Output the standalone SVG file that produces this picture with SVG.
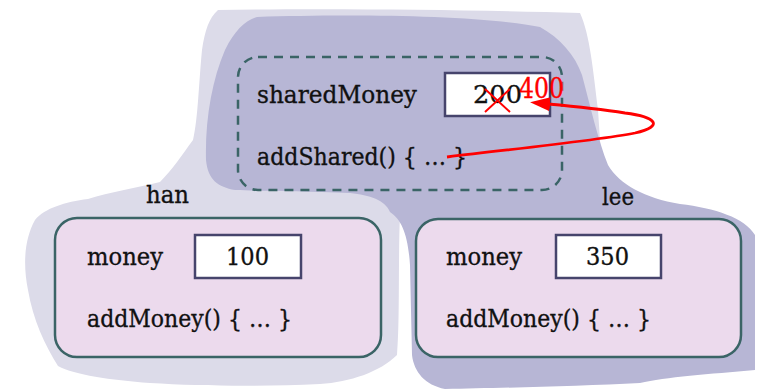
<svg xmlns="http://www.w3.org/2000/svg" width="759" height="390" viewBox="0 0 759 390">
  <style>
    .t { font-family: "DejaVu Serif", "Liberation Serif", serif; font-size: 25px; fill: #111; stroke: #111; stroke-width: 0.35; }
    .obj { fill: #ecdaed; stroke: #3a6466; stroke-width: 2.5; }
    .val { fill: #ffffff; stroke: #46446c; stroke-width: 2.5; }
    .red { stroke: #ff0000; stroke-width: 2.8; fill: none; }
  </style>
  <defs>
    <marker id="arrow" viewBox="0 0 20 14" refX="2" refY="7" markerWidth="20" markerHeight="14" markerUnits="userSpaceOnUse" orient="auto">
      <path d="M0,0 L20,7 L0,14 Z" fill="#ff0000"/>
    </marker>
  </defs>

  <!-- background regions -->
  <g id="regions">
    <path id="region-han" fill="#dcdbe9" d="M 218,10 C 330,8 480,10 580,13 C 590,35 593,70 598,110 L 602,170 L 400,215 C 398,260 400,320 397,355 C 380,372 350,382 320,384 C 260,387 200,386 150,383 C 110,380 75,375 58,366 C 45,345 33,320 28,290 C 23,265 24,240 35,220 C 45,208 65,202 88,199 C 110,192 135,188 160,182 C 172,170 182,155 193,140 C 198,120 199,80 202,50 C 205,30 209,18 218,10 Z"/>
    <path id="region-lee" fill="#b7b6d5" d="M 257,17 C 350,14 480,15 540,27 C 560,38 575,55 582,75 C 590,105 598,140 608,165 C 620,185 645,198 680,204 C 715,208 745,218 755,235 L 755,370 C 710,374 665,377 640,383 C 580,386 500,388 445,389 C 425,385 414,372 412,355 L 410,265 C 408,235 402,220 390,212 C 385,200 370,195 350,193 C 300,191 260,191 235,190 C 218,187 208,180 206,160 C 205,120 212,80 225,50 C 235,30 245,21 257,17 Z"/>
  </g>

  <!-- shared (static) part -->
  <g id="shared">
    <rect x="238" y="57" width="324" height="133" rx="20" ry="20" fill="none" stroke="#3a6466" stroke-width="2.5" stroke-dasharray="9,7"/>
    <text class="t" x="257" y="103" textLength="160" lengthAdjust="spacingAndGlyphs">sharedMoney</text>
    <rect class="val" x="445" y="73" width="105" height="43"/>
    <text class="t" x="473" y="103" textLength="49" lengthAdjust="spacingAndGlyphs">200</text>
    <text x="519" y="98" font-family="DejaVu Serif, Liberation Serif, serif" font-size="28" fill="#ff0000" stroke="#ff0000" stroke-width="0.4" textLength="45" lengthAdjust="spacingAndGlyphs">400</text>
    <path d="M 485,89 L 510,112 M 485,112 L 510,89" stroke="#ff0000" stroke-width="2" fill="none"/>
    <text class="t" x="257" y="165" textLength="210" lengthAdjust="spacingAndGlyphs">addShared() { … }</text>
  </g>

  <!-- instance han -->
  <g id="han">
    <text class="t" x="146" y="203" textLength="43" lengthAdjust="spacingAndGlyphs">han</text>
    <rect class="obj" x="55" y="218" width="326" height="139" rx="22" ry="22"/>
    <text class="t" x="87" y="265" textLength="76" lengthAdjust="spacingAndGlyphs">money</text>
    <rect class="val" x="195" y="235" width="106" height="43"/>
    <text class="t" x="226" y="265" textLength="43" lengthAdjust="spacingAndGlyphs">100</text>
    <text class="t" x="87" y="327" textLength="205" lengthAdjust="spacingAndGlyphs">addMoney() { … }</text>
  </g>

  <!-- instance lee -->
  <g id="lee">
    <text class="t" x="602" y="205" textLength="32" lengthAdjust="spacingAndGlyphs">lee</text>
    <rect class="obj" x="416" y="219" width="325" height="138" rx="22" ry="22"/>
    <text class="t" x="446" y="265" textLength="76" lengthAdjust="spacingAndGlyphs">money</text>
    <rect class="val" x="556" y="235" width="105" height="43"/>
    <text class="t" x="586" y="265" textLength="43" lengthAdjust="spacingAndGlyphs">350</text>
    <text class="t" x="446" y="327" textLength="205" lengthAdjust="spacingAndGlyphs">addMoney() { … }</text>
  </g>

  <!-- connectors -->
  <g id="connectors">
    <path class="red" marker-end="url(#arrow)" d="M 447,157 C 540,146 600,140 635,133 C 665,126 656,117 625,113 C 600,109 570,106 548,104"/>
  </g>
</svg>
